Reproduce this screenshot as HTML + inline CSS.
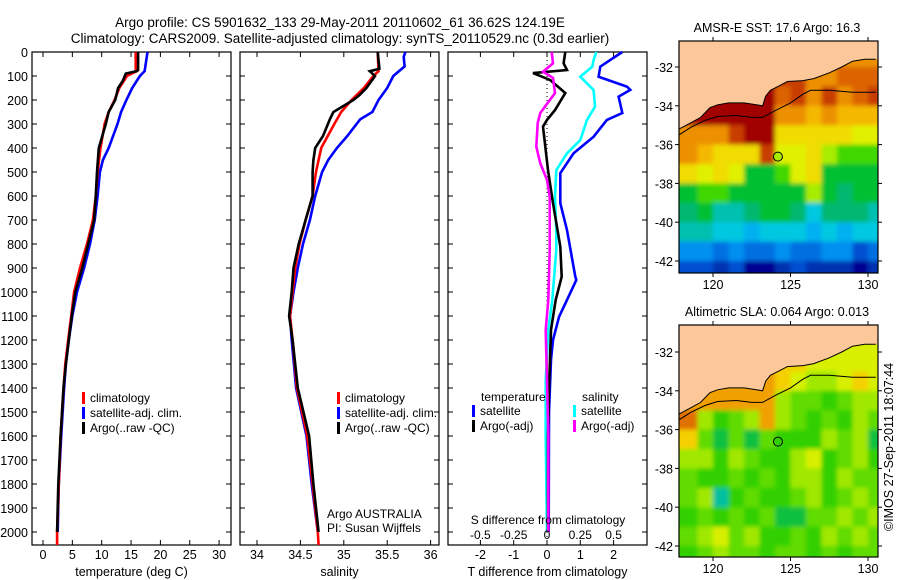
<!DOCTYPE html>
<html><head><meta charset="utf-8"><style>
html,body{margin:0;padding:0;background:#fff;}
svg{display:block;font-family:"Liberation Sans",sans-serif;}
</style></head><body>
<svg id="fig" width="900" height="580" viewBox="0 0 900 580" xmlns="http://www.w3.org/2000/svg">
<defs><filter id="soft" x="-5%" y="-5%" width="110%" height="110%"><feGaussianBlur stdDeviation="2.2"/></filter></defs>
<rect width="900" height="580" fill="#fff"/>
<text x="340" y="27" font-size="13.5" text-anchor="middle">Argo profile: CS 5901632_133 29-May-2011 20110602_61 36.62S 124.19E</text>
<text x="340" y="43" font-size="13.5" text-anchor="middle">Climatology: CARS2009. Satellite-adjusted climatology: synTS_20110529.nc (0.3d earlier)</text>
<g id="g"></g>
</svg>
<script>
// ---------- data ----------
const tClimD=[0,70,80,100,150,200,250,300,400,500,600,700,800,900,1000,1100,1200,1300,1400,1600,1800,2000,2054];
const tClimV=[15.8,15.8,16.0,14.3,13.0,12.2,11.2,10.5,9.8,9.3,9.0,8.5,7.5,6.3,5.3,4.8,4.3,3.8,3.5,3.0,2.7,2.4,2.4];
const tArgoD=[0,75,80,90,120,150,200,250,300,400,500,600,700,800,900,1000,1100,1200,1300,1400,1600,1800,2000];
const tArgoV=[16.2,16.2,15.9,14.1,13.6,12.8,12.3,11.2,10.7,9.5,9.2,9.0,8.7,7.7,6.7,5.5,4.9,4.4,3.9,3.5,3.0,2.6,2.4];
const tSatD=[0,50,80,100,150,200,250,300,400,450,500,600,700,800,900,1000,1100,1200,1300,1400,1600,1800,2000];
const tSatV=[17.8,17.5,17.3,16.5,15.2,14.2,13.3,12.7,11.2,10.2,9.7,9.3,8.8,8.0,7.0,5.8,5.0,4.4,3.9,3.6,3.1,2.7,2.5];
const sClimD=[0,80,100,150,200,250,300,400,500,600,700,800,900,1000,1100,1200,1400,1600,1800,2000,2054];
const sClimV=[35.39,35.40,35.34,35.23,35.09,34.97,34.89,34.74,34.68,34.64,34.56,34.49,34.44,34.41,34.38,34.41,34.46,34.58,34.64,34.70,34.71];
const sArgoD=[0,70,80,100,150,180,200,250,280,350,400,450,500,600,700,800,900,1000,1100,1200,1400,1600,1800,2000];
const sArgoV=[35.39,35.41,35.30,35.36,35.26,35.18,35.11,34.88,34.84,34.76,34.67,34.65,34.64,34.64,34.56,34.48,34.42,34.40,34.37,34.41,34.47,34.60,34.65,34.71];
const sSatD=[0,20,60,100,150,200,250,280,350,400,450,500,600,700,800,900,1000,1100,1200,1400,1600,1800,2000];
const sSatV=[35.71,35.69,35.70,35.57,35.50,35.40,35.33,35.19,35.04,34.92,34.82,34.75,34.67,34.61,34.53,34.47,34.42,34.38,34.40,34.45,34.57,34.63,34.70];
const dTArgoD=[0,47,75,88,117,171,242,283,311,492,630,811,936,1033,1158,1283,1400,1600,2000];
const dTArgoV=[0.55,0.5,0.6,-0.42,0.1,0.55,0.24,0,-0.12,0.03,0.18,0.4,0.44,0.26,0.12,0.09,0.06,0.03,0.03];
const dTSatD=[0,61,103,144,158,186,254,283,353,422,505,630,742,936,950,1033,1104,1200,1283,1500,2000];
const dTSatV=[2.26,1.6,1.55,2.4,2.5,2.15,2.26,1.8,1.4,0.8,0.4,0.4,0.6,0.85,0.88,0.6,0.36,0.18,0.12,0.06,0.05];
const dSSatD=[0,33,61,103,158,228,283,367,422,492,603,742,825,1033,1158,1367,1600,2000];
const dSSatV=[0.37,0.35,0.34,0.25,0.35,0.36,0.3,0.25,0.15,0.07,0.06,0.07,0.07,0.04,0.01,-0.01,-0.01,0.0];
const dSArgoD=[0,47,82,108,171,254,296,394,464,533,603,825,1033,1158,1367,1600,2000];
const dSArgoV=[0.035,0.045,-0.03,0.045,0.06,-0.05,-0.07,-0.08,-0.05,0,0.02,0.02,0.01,-0.01,0.0,0.01,0.01];
const depthTicks=[0,100,200,300,400,500,600,700,800,900,1000,1100,1200,1300,1400,1500,1600,1700,1800,1900,2000];
const tTicks=[0,5,10,15,20,25,30];
const sTicks=[34,34.5,35,35.5,36];
const dTTicks=[-2,-1,0,1,2];
const dSTickLabels=["-0.5","-0.25","0","0.25","0.5"];
const lonTicks=[120,125,130];
const latTicks=[-32,-34,-36,-38,-40,-42];
const sstGrid=[
[18.5,18.5,18.5,18.5,18.5,18.5,18.5,18.5,18.5,18.5,18,18,18],
[18.5,18.5,18.5,18.5,18.5,18.5,18.5,18.5,18,18,18.2,18.2,18.2],
[19,19,19,19,19,19,18.3,18.5,18,18.5,18,18.3,18.5],
[19,19,19,19,19,19,18,17.8,17.5,17.8,17.5,17.5,17.6],
[18,17.8,17.9,18.5,19,18.8,17.3,17.1,17,17.2,17,16.8,16.6],
[17.8,17.5,17.3,17,17.1,18.5,16.7,16.9,17,16.5,16.2,16,16],
[17,16.6,17,16.8,15.6,15.5,16,16.6,17.2,15.6,15.5,15.5,15.5],
[15.6,16,16.2,15.4,15.4,15.5,15.5,15.6,16.3,15.5,15.3,15.4,15.4],
[15.3,15.4,14.9,15,15.3,15.5,15.4,15.2,14.6,15.2,15.3,15.1,15],
[14.8,14.8,14.7,14.6,14.3,14.5,14.6,14.5,14.4,14.6,14.4,14.5,14.5],
[14,13.9,13.8,14,13.6,13.7,13.9,13.8,13.8,14,13.9,13.3,13.6],
[13.4,13.3,13.2,13.3,12.8,12.9,13.1,13.3,13.0,13.2,13.1,12.9,13.0]];
const slaGrid=[
[0.15,0.15,0.15,0.15,0.15,0.15,0.15,0.15,0.15,0.12,0.12,0.12,0.12],
[0.15,0.15,0.15,0.15,0.15,0.15,0.15,0.15,0.12,0.12,0.12,0.12,0.12],
[0.2,0.2,0.2,0.2,0.2,0.2,0.15,0.12,0.1,0.1,0.12,0.17,0.12],
[0.22,0.2,0.2,0.2,0.2,0.2,0.1,0.03,0.05,0.0,0.05,0.07,0.1],
[0.25,0.1,0.02,0.05,0.1,0.22,0.08,0.03,0.0,0.05,0.0,0.1,0.05],
[0.15,0.05,-0.03,0.05,-0.05,0.05,0.0,0.02,0.0,0.1,0.05,0.08,-0.04],
[0.1,0.07,0.02,0.1,0.05,0.0,0.02,0.07,0.12,0.0,0.04,0.08,0.0],
[0.05,0.0,0.0,0.05,0.02,0.05,0.02,0.1,0.1,-0.02,0.1,0.05,0.03],
[0.03,0.1,-0.1,0.02,0.05,0.0,0.0,0.05,0.08,0.0,0.05,0.1,0.05],
[0.02,0.04,0.0,0.05,0.0,0.05,-0.03,-0.05,0.05,0.03,0.1,0.05,0.08],
[0.05,0.1,0.12,0.05,0.1,0.02,0.0,0.03,0.0,0.1,0.05,0.07,0.05],
[0.02,0.05,0.08,0.03,0.05,0.0,0.03,0.05,0.02,0.05,0.0,0.05,0.03]];
const coastLon=[117.8,118.5,119.2,119.8,120.3,121.0,122.0,122.8,123.2,123.4,123.7,124.2,124.8,125.8,126.5,127.5,128.3,129.0,129.8,130.5];
const coastLat=[-35.2,-34.9,-34.6,-34.1,-33.95,-33.85,-33.85,-33.95,-34.0,-33.5,-33.2,-33.0,-32.75,-32.7,-32.6,-32.3,-32.0,-31.7,-31.6,-31.6];
const shelfLon=[117.8,118.6,119.5,120.3,121.5,122.5,123.2,124.0,125.0,125.8,126.3,127.5,129.0,130.5];
const shelfLat=[-35.5,-35.1,-34.75,-34.55,-34.5,-34.6,-34.6,-34.25,-33.85,-33.4,-33.2,-33.2,-33.3,-33.3];
const argoLon=124.19, argoLat=-36.62;

// ---------- helpers ----------
const NS="http://www.w3.org/2000/svg";
const G=document.getElementById('g');
function mk(tag,attrs,parent){const e=document.createElementNS(NS,tag);for(const k in attrs)e.setAttribute(k,attrs[k]);(parent||G).appendChild(e);return e;}
function txt(x,y,s,size,anchor,parent){const t=mk('text',{x:x,y:y,'font-size':size||12,'text-anchor':anchor||'start'},parent);t.textContent=s;return t;}
const TOP=52,BOT=545;
const yD=d=>TOP+d*0.24;
function panel(name,x0,x1,xs,ticks,labels,xlabel){
  const g=mk('g',{});
  
  
  const r=mk('rect',{x:x0,y:TOP,width:x1-x0,height:BOT-TOP,fill:'none',stroke:'#000','stroke-width':1.2},g);
  
  
  depthTicks.forEach(d=>{const y=yD(d);mk('line',{x1:x0,x2:x0+5,y1:y,y2:y,stroke:'#000'},g);mk('line',{x1:x1-5,x2:x1,y1:y,y2:y,stroke:'#000'},g);});
  ticks.forEach((v,i)=>{const x=xs(v);mk('line',{x1:x,x2:x,y1:TOP,y2:TOP+5,stroke:'#000'},g);mk('line',{x1:x,x2:x,y1:BOT-5,y2:BOT,stroke:'#000'},g);
    const t=txt(x,559,labels[i],12.5,'middle',g);});
  const xl=txt((x0+x1)/2,576,xlabel,12.5,'middle',g);
  
  
  return g;
}
function line(g,xs,D,V,color,name,w){
  const pts=D.map((d,i)=>xs(V[i]).toFixed(1)+','+yD(d).toFixed(1)).join(' ');
  const p=mk('polyline',{points:pts,fill:'none',stroke:color,'stroke-width':w||2.6,'stroke-linejoin':'miter'},g);
  
  
}
function legend(g,x,y,color,label){
  const r=mk('rect',{x:x,y:y-10,width:3,height:12,fill:color},g);
  
  
  const t=txt(x+8,y,label,12,'start',g);
  
  
}
depthTicks.forEach(d=>{const t=txt(28,yD(d)+5,String(d),12.5,'end');});

// ---------- panel 1 ----------
const xT=v=>43+5.87*v;
const p1=panel('temperature-panel',32,231,xT,tTicks,tTicks.map(String),'temperature (deg C)');
line(p1,xT,tSatD,tSatV,'#0000ff','satellite-temperature-line');
line(p1,xT,tClimD,tClimV,'#ff0000','climatology-temperature-line');
line(p1,xT,tArgoD,tArgoV,'#000','argo-temperature-line');
legend(p1,82,402,'#ff0000','climatology');
legend(p1,82,417,'#0000ff','satellite-adj. clim.');
legend(p1,82,432,'#000','Argo(..raw -QC)');

// ---------- panel 2 ----------
const xS=v=>257+86.8*(v-34);
const p2=panel('salinity-panel',240,439,xS,sTicks,sTicks.map(String),'salinity');
line(p2,xS,sSatD,sSatV,'#0000ff','satellite-salinity-line');
line(p2,xS,sClimD,sClimV,'#ff0000','climatology-salinity-line');
line(p2,xS,sArgoD,sArgoV,'#000','argo-salinity-line');
legend(p2,337,402,'#ff0000','climatology');
legend(p2,337,417,'#0000ff','satellite-adj. clim.');
legend(p2,337,432,'#000','Argo(..raw -QC)');
let c1=txt(327,518,'Argo AUSTRALIA',12,'start',p2);
let c2=txt(327,532,'PI: Susan Wijffels',12,'start',p2);

// ---------- panel 3 ----------
const xdT=v=>547+33.3*v;
const xdS=v=>547+133.2*v;
const p3=panel('difference-panel',448,647,xdT,dTTicks,dTTicks.map(String),'T difference from climatology');
const zl=mk('line',{x1:547,x2:547,y1:TOP,y2:BOT,stroke:'#000','stroke-dasharray':'1,3'},p3);


line(p3,xdT,dTSatD,dTSatV,'#0000ff','satellite-temperature-difference-line');
line(p3,xdS,dSSatD,dSSatV,'#00ffff','satellite-salinity-difference-line');
line(p3,xdT,dTArgoD,dTArgoV,'#000','argo-temperature-difference-line');
line(p3,xdS,dSArgoD,dSArgoV,'#ff00ff','argo-salinity-difference-line');
let h1=txt(481,401,'temperature',12,'start',p3);
let h2=txt(582,401,'salinity',12,'start',p3);
legend(p3,472,415,'#0000ff','satellite');
legend(p3,472,430,'#000','Argo(-adj)');
legend(p3,573,415,'#00ffff','satellite');
legend(p3,573,430,'#ff00ff','Argo(-adj)');
let st=txt(548,524,'S difference from climatology',12,'middle',p3);
dTTicks.forEach((v,i)=>{const t=txt(xdT(v),539,dSTickLabels[i],12,'middle',p3);});

// ---------- maps ----------
const MX0=679,MX1=878;
const lonX=l=>713+15.5*(l-120);
function sstColor(v){
  const s=[[18.8,'#a00000'],[18.4,'#c83c00'],[18.1,'#dc6400'],[17.7,'#ec9000'],[17.4,'#f5b800'],[17.0,'#f0dc00'],[16.6,'#e0f000'],[16.3,'#a8ec00'],[15.8,'#40d800'],[15.4,'#00c030'],[15.1,'#00b870'],[14.8,'#00c0b0'],[14.5,'#00c8e0'],[14.2,'#00b0f0'],[13.9,'#0090f0'],[13.6,'#0070e0'],[13.3,'#0050d0'],[13.0,'#0030b0'],[-99,'#000090']];
  for(const [t,c] of s) if(v>=t) return c;
}
function slaColor(v){
  const s=[[0.235,'#e07000'],[0.19,'#f0a000'],[0.15,'#f5d000'],[0.11,'#d8f000'],[0.07,'#a0e800'],[0.03,'#60dc00'],[-0.02,'#30d000'],[-0.06,'#10c040'],[-0.09,'#00b070'],[-99,'#00c0a0']];
  for(const [t,c] of s) if(v>=t) return c;
}
function map(name,y0,y1,lat32y,grid,colf,title,titleY){
  const latY=l=>lat32y+19.4*(-32-l);
  const g=mk('g',{});
  
  
  const cid='clip'+name;
  const cp=mk('clipPath',{id:cid},g);mk('rect',{x:MX0,y:y0,width:MX1-MX0,height:y1-y0},cp);
  const inner=mk('g',{'clip-path':'url(#'+cid+')'},g);
  const cells=mk('g',{filter:'url(#soft)'},inner);
  const nr=grid.length;
  grid.forEach((row,r)=>row.forEach((v,c)=>{
    const lat=-31-r, lon=118+c;
    let x=lonX(lon), y=latY(lat), w=15.9, h=19.8;
    if(c===0){x-=20;w+=20;}
    if(c===row.length-1){w+=20;}
    if(r===nr-1){h+=20;}
    const cell=mk('rect',{x:x.toFixed(1),y:y.toFixed(1),width:w,height:h,fill:colf(v)},cells);
    
    
  }));
  let lp=coastLon.map((l,i)=>lonX(l).toFixed(1)+','+latY(coastLat[i]).toFixed(1));
  lp.push(lonX(131)+','+latY(coastLat[coastLat.length-1]));
  lp.push(lonX(131)+','+(y0-5));lp.push(lonX(117)+','+(y0-5));lp.push(lonX(117)+','+latY(coastLat[0]));
  const land=mk('polygon',{points:lp.join(' '),fill:'#fcc89a',stroke:'none'},inner);
  
  
  const cl=mk('polyline',{points:coastLon.map((l,i)=>lonX(l).toFixed(1)+','+latY(coastLat[i]).toFixed(1)).join(' '),fill:'none',stroke:'#000','stroke-width':1},inner);
  
  
  const sh=mk('polyline',{points:shelfLon.map((l,i)=>lonX(l).toFixed(1)+','+latY(shelfLat[i]).toFixed(1)).join(' '),fill:'none',stroke:'#000','stroke-width':1},inner);
  
  
  const pt=mk('circle',{cx:lonX(argoLon),cy:latY(argoLat),r:4.5,fill:colf(name==='sst-map'?16.3:0.013),stroke:'#000','stroke-width':1},g);
  
  
  const fr=mk('rect',{x:MX0,y:y0,width:MX1-MX0,height:y1-y0,fill:'none',stroke:'#000','stroke-width':1.2},g);
  
  
  lonTicks.forEach(l=>{const x=lonX(l);mk('line',{x1:x,x2:x,y1:y0-4,y2:y0,stroke:'#000'},g);mk('line',{x1:x,x2:x,y1:y1,y2:y1+4,stroke:'#000'},g);
    const t=txt(x,y1+16,String(l),12.5,'middle',g);});
  latTicks.forEach(l=>{const y=latY(l);mk('line',{x1:MX0-4,x2:MX0,y1:y,y2:y,stroke:'#000'},g);mk('line',{x1:MX1,x2:MX1+4,y1:y,y2:y,stroke:'#000'},g);
    const t=txt(MX0-6,y+5,String(l),12.5,'end',g);});
  const tt=txt(777,titleY,title,12.5,'middle',g);
  
  
}
map('sst-map',41,273,67,sstGrid,sstColor,'AMSR-E SST: 17.6 Argo: 16.3',32);
map('sla-map',325,557,352,slaGrid,slaColor,'Altimetric SLA: 0.064 Argo: 0.013',316);
const imos=txt(0,0,'©IMOS 27-Sep-2011 18:07:44',12.5,'middle');
imos.setAttribute('transform','translate(893,447) rotate(-90)');


</script>
</body></html>
